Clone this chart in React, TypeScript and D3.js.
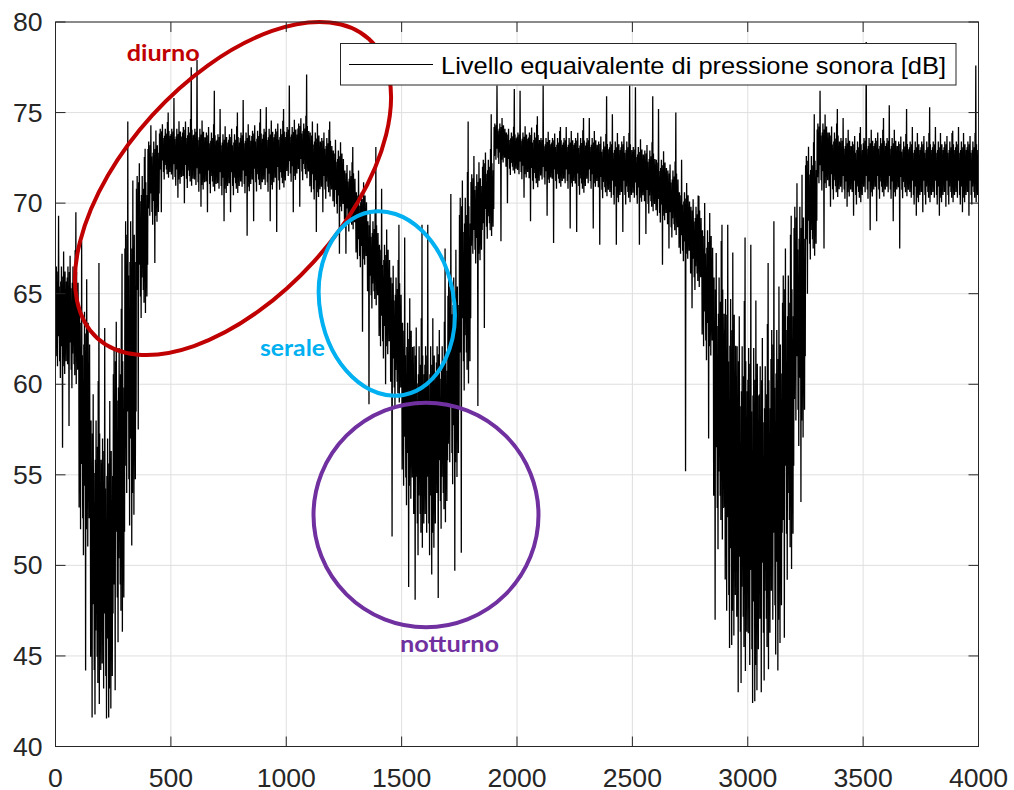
import React from 'react';
import * as d3 from 'd3';

// ---- data ----
const xTicks = [0, 500, 1000, 1500, 2000, 2500, 3000, 3500, 4000];
const yTicks = [40, 45, 50, 55, 60, 65, 70, 75, 80];
const seriesName = 'Livello equaivalente di pressione sonora [dB]';
const binWidth = 50; // samples per envelope bin

// Per-bin envelope of the noisy signal (dB), bins of 50 samples from 0 to 4000
const peakHigh = [
  69.3, 69.5, 67.9, 66.7, 63.1, 67.2, 74.5, 73.0, 74.3, 75.0,
  75.8, 77.5, 77.9, 76.2, 75.2, 75.0, 75.7, 75.2, 75.3, 75.2,
  76.5, 77.1, 74.5, 74.5, 73.5, 73.1, 71.8, 73.1, 70.8, 68.8,
  68.1, 68.8, 68.8, 67.5, 70.5, 74.5, 72.6, 74.9, 76.5, 76.3,
  76.2, 74.8, 76.5, 74.2, 74.2, 74.7, 74.7, 75.9, 74.9, 76.5,
  76.4, 75.9, 75.2, 75.0, 72.4, 70.4, 70.0, 68.8, 68.8, 68.1,
  67.7, 66.7, 69.0, 69.3, 71.1, 74.9, 76.2, 75.2, 74.7, 74.2,
  78.9, 74.7, 75.4, 75.2, 74.2, 75.3, 74.2, 74.0, 74.2, 77.6,
];
const bandHigh = [
  66.5, 66.5, 64.0, 58.0, 57.0, 62.0, 69.0, 71.5, 73.4, 74.1,
  74.1, 74.2, 74.1, 73.9, 73.8, 73.8, 73.9, 74.0, 74.1, 74.1,
  74.2, 74.4, 73.9, 73.6, 72.9, 71.8, 70.6, 69.0, 67.7, 65.9,
  63.4, 62.1, 62.1, 62.1, 65.9, 70.3, 71.6, 72.4, 74.4, 73.9,
  73.9, 73.9, 73.6, 73.6, 73.6, 73.6, 73.6, 73.4, 73.4, 73.4,
  73.1, 72.9, 72.4, 71.8, 70.6, 69.8, 68.5, 65.9, 64.7, 62.1,
  62.0, 61.0, 63.0, 66.0, 69.8, 72.6, 74.4, 73.9, 73.6, 73.4,
  73.6, 73.6, 73.6, 73.4, 73.4, 73.4, 73.4, 73.4, 73.4, 73.4,
];
const bandLow = [
  61.0, 60.5, 52.0, 43.5, 43.2, 47.5, 54.0, 64.5, 69.3, 71.6,
  71.3, 71.2, 71.0, 70.9, 70.8, 70.8, 70.9, 71.0, 71.0, 71.1,
  71.5, 71.6, 70.6, 70.6, 69.8, 68.8, 66.9, 64.7, 62.1, 59.5,
  54.4, 51.8, 51.8, 53.1, 55.7, 60.8, 67.2, 68.5, 72.4, 71.8,
  71.6, 71.1, 71.3, 71.1, 71.1, 70.8, 71.1, 70.6, 70.3, 70.3,
  70.3, 69.8, 69.3, 68.5, 67.2, 65.7, 62.1, 52.5, 47.5, 45.5,
  44.5, 45.5, 47.0, 51.0, 58.0, 67.5, 71.1, 70.6, 70.6, 70.3,
  70.6, 70.6, 70.6, 70.6, 70.3, 70.3, 70.3, 70.3, 70.3, 70.3,
];
const peakLow = [
  56.5, 57.7, 44.2, 41.6, 41.6, 43.1, 51.1, 57.5, 66.7, 69.5,
  70.3, 70.0, 69.8, 69.5, 69.0, 69.5, 68.2, 69.0, 69.0, 68.4,
  69.5, 69.8, 68.4, 69.5, 67.2, 67.2, 62.9, 58.9, 60.0, 51.6,
  48.8, 48.1, 49.5, 48.2, 49.7, 50.7, 58.8, 63.1, 67.9, 70.0,
  70.3, 69.0, 69.3, 67.8, 68.6, 68.4, 68.6, 67.7, 67.7, 68.4,
  67.7, 68.3, 66.6, 67.5, 55.2, 64.2, 57.0, 47.0, 45.6, 43.0,
  42.5, 43.0, 44.2, 46.0, 53.5, 65.0, 67.5, 69.8, 69.8, 69.3,
  68.5, 69.0, 69.0, 67.5, 69.3, 69.5, 69.3, 69.8, 69.5, 69.3,
];

// rendering texture of a dense trace inside each bin's band (relative positions in the band)
const TEXTURE = [
  0.9, 0.1, 1.0, 0.25, 0.7, 0.0, 0.95, 0.3, 1.1, 0.45, 0.8, 0.05, 0.6, -0.12, 0.85, 0.2,
  1.0, 0.35, 0.75, 0.1, 0.9, 0.0, 1.15, 0.4, 0.65, -0.08, 0.95, 0.15, 0.55, 0.05, 0.85, 0.3,
];

const W = 1014;
const H = 790;

export default function App() {
  const x = d3.scaleLinear().domain([0, 4000]).range([55.5, 978.5]);
  const y = d3.scaleLinear().domain([40, 80]).range([746.5, 22]);

  const pts: [number, number][] = [];
  const n = TEXTURE.length;
  peakHigh.forEach((ph, i) => {
    const hiIdx = i % 2 === 0 ? 8 : 24;
    const loIdx = i % 2 === 0 ? 19 : 5;
    for (let k = 0; k < n; k++) {
      let v = bandLow[i] + TEXTURE[k] * (bandHigh[i] - bandLow[i]);
      if (k === hiIdx) v = ph;
      if (k === loIdx) v = peakLow[i];
      pts.push([i * binWidth + (k + 0.5) * (binWidth / n), v]);
    }
  });
  const line = d3
    .line<[number, number]>()
    .x((d) => x(d[0]))
    .y((d) => y(d[1]));

  const [x0, x1] = x.range();
  const [yb, yt] = y.range();
  const axisColor = '#262626';
  const font = '"Liberation Sans", Arial, Helvetica, sans-serif';
  const annFont = 'Lato, "Open Sans", sans-serif';

  return (
    <svg width={W} height={H} style={{ position: 'absolute', left: 0, top: 0, background: '#fff' }}>
      <rect x={0} y={0} width={W} height={H} fill="#fff" />
      {/* grid */}
      <g stroke="#dfdfdf" strokeWidth={1}>
        {xTicks.map((t) => (
          <line key={'gx' + t} x1={x(t)} x2={x(t)} y1={yt} y2={yb} />
        ))}
        {yTicks.map((t) => (
          <line key={'gy' + t} x1={x0} x2={x1} y1={y(t)} y2={y(t)} />
        ))}
      </g>
      {/* data */}
      <path d={line(pts) || ''} fill="none" stroke="#000" strokeWidth={1.3} strokeLinejoin="bevel" />
      {/* annotations */}
      <g fill="none" strokeWidth={4}>
        <ellipse cx={233} cy={188.5} rx={202} ry={109} transform="rotate(-47.7 233 188.5)" stroke="#c00000" />
        <ellipse cx={386.8} cy={303.5} rx={67} ry={93} transform="rotate(-10.4 386.8 303.5)" stroke="#00b0f0" />
        <ellipse cx={426} cy={515} rx={112.5} ry={112.3} stroke="#7030a0" />
      </g>
      <g fontFamily={annFont} fontWeight={700} fontSize={22}>
        <text x={126.7} y={60.7} fill="#c00000" textLength={73} lengthAdjust="spacingAndGlyphs">diurno</text>
        <text x={260} y={356} fill="#00b0f0" textLength={65} lengthAdjust="spacingAndGlyphs">serale</text>
        <text x={400} y={651.7} fill="#7030a0" textLength={99} lengthAdjust="spacingAndGlyphs">notturno</text>
      </g>
      {/* legend */}
      <rect x={340.5} y={43.5} width={615.5} height={41.5} fill="#fff" stroke={axisColor} strokeWidth={1} />
      <line x1={349} x2={433} y1={64.5} y2={64.5} stroke="#000" strokeWidth={1} />
      <text x={441} y={74} fontFamily={font} fontSize={24} fill="#000" textLength={505} lengthAdjust="spacingAndGlyphs">
        {seriesName}
      </text>
      {/* axes box and ticks */}
      <rect x={x0} y={yt} width={x1 - x0} height={yb - yt} fill="none" stroke={axisColor} strokeWidth={1} />
      <g stroke={axisColor} strokeWidth={1}>
        {xTicks.map((t) => (
          <g key={'tx' + t}>
            <line x1={x(t)} x2={x(t)} y1={yb} y2={yb - 10} />
            <line x1={x(t)} x2={x(t)} y1={yt} y2={yt + 10} />
          </g>
        ))}
        {yTicks.map((t) => (
          <g key={'ty' + t}>
            <line x1={x0} x2={x0 + 10} y1={y(t)} y2={y(t)} />
            <line x1={x1} x2={x1 - 10} y1={y(t)} y2={y(t)} />
          </g>
        ))}
      </g>
      <g fontFamily={font} fontSize={25} fill={axisColor}>
        {xTicks.map((t) => (
          <text key={'lx' + t} x={x(t)} y={786.5} textAnchor="middle" textLength={String(t).length * 14.8} lengthAdjust="spacingAndGlyphs">
            {t}
          </text>
        ))}
        {yTicks.map((t) => (
          <text key={'ly' + t} x={42.5} y={y(t) + 9} textAnchor="end" textLength={String(t).length * 14.8} lengthAdjust="spacingAndGlyphs">
            {t}
          </text>
        ))}
      </g>
    </svg>
  );
}
